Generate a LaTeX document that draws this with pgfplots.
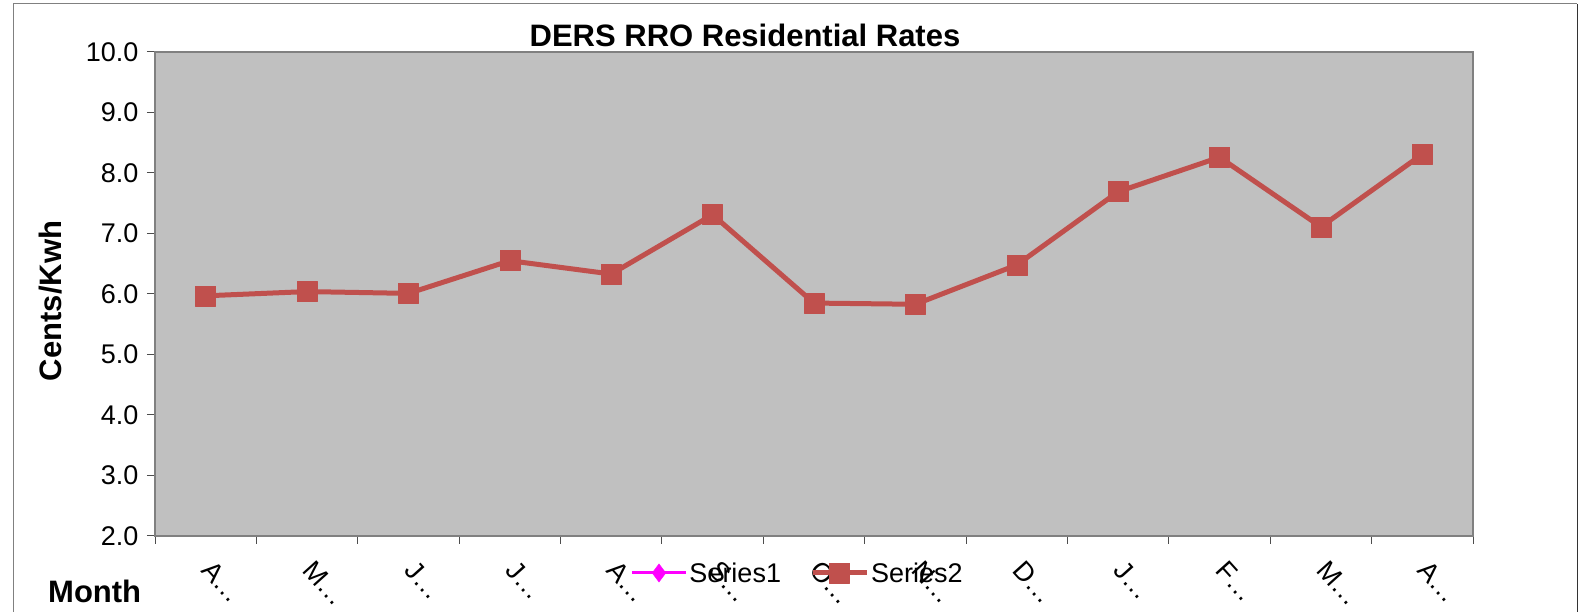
\documentclass[border=0pt]{standalone}
\usepackage{fontspec}
\setmainfont{Liberation Sans}
\usepackage{pgfplots}
\pgfplotsset{compat=1.18}
\definecolor{bgray}{HTML}{C0C0C0}
\definecolor{sred}{HTML}{C0504D}
\definecolor{axgray}{HTML}{808080}
\definecolor{mag}{HTML}{FF00FF}
\begin{document}
\begin{tikzpicture}[x=1pt,y=1pt]
\path[use as bounding box] (0,0) rectangle (1583,612);
\draw[axgray, line width=1pt] (13,-5) -- (13,608) -- (1577,608);
\draw[black!80, line width=1pt] (1577,608) -- (1577,-5);
\begin{axis}[
  at={(155pt,76pt)}, anchor=south west,
  scale only axis, width=1318pt, height=484pt,
  xmin=-0.5, xmax=12.5, ymin=2, ymax=10,
  axis background/.style={fill=bgray},
  axis line style={draw=axgray, line width=2pt},
  xtick={0,...,12},
  xticklabels={A…,M…,J…,J…,A…,S…,O…,N…,D…,J…,F…,M…,A…},
  minor xtick={-0.5,0.5,...,12.5},
  every major x tick/.append style={draw=none},
  ytick={2,...,10},
  tick align=outside, major tick length=8pt, minor tick length=8pt,
  tick style={draw=axgray!60!black, line width=1pt},
  ytick pos=left, xtick pos=bottom,
  tick label style={font=\fontsize{27}{32}\selectfont},
  /pgf/number format/assume math mode=true,
  yticklabel style={/pgf/number format/.cd, fixed, fixed zerofill, precision=1, /tikz/.cd, xshift=-5pt},
  xticklabel style={rotate=-48, anchor=north west, xshift=13pt, yshift=0pt},
  legend style={at={(0.4875,-0.0764)}, anchor=center, draw=none, fill=none,
    legend columns=2, font=\fontsize{27}{32}\selectfont,
    /tikz/every even column/.append style={column sep=27pt}, inner sep=0pt},
  legend image code/.code={\draw[mark repeat=2,mark phase=2] plot coordinates {(0pt,0pt) (27pt,0pt) (54pt,0pt)};},
]
\addlegendimage{mag, line width=3pt, mark=diamond*, mark size=9pt, mark options={line width=0.5pt}}
\addlegendentry{Series1}
\addplot[sred, line width=5pt, line join=round, mark=square*, mark size=10pt, mark options={solid, line width=0.5pt}] coordinates {
 (0,5.97) (1,6.04) (2,6.01) (3,6.55) (4,6.33) (5,7.31) (6,5.85)
 (7,5.83) (8,6.48) (9,7.69) (10,8.26) (11,7.11) (12,8.31)};
\addlegendentry{Series2}
\end{axis}
\node[font=\fontsize{31}{36}\selectfont\bfseries, anchor=base] at (745,565.3) {DERS RRO Residential Rates};
\node[font=\fontsize{31}{36}\selectfont\bfseries, rotate=90, anchor=base] at (61.7,311) {Cents/Kwh};
\node[font=\fontsize{31}{36}\selectfont\bfseries, anchor=base west, inner sep=0pt] at (48,9) {Month};
\end{tikzpicture}
\end{document}
